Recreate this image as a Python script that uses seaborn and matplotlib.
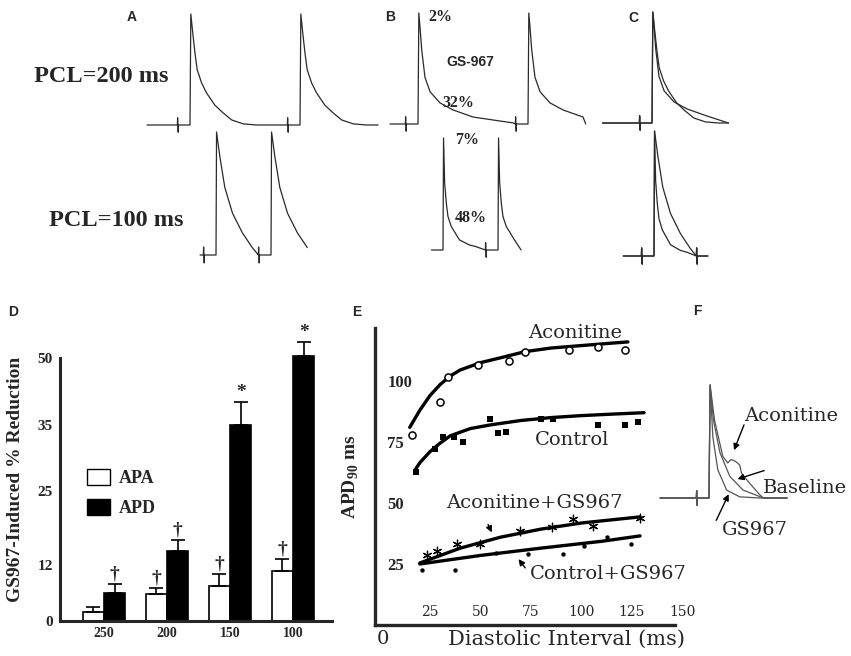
import numpy as np
import pandas as pd
import matplotlib
matplotlib.use("Agg")
import matplotlib.pyplot as plt
from matplotlib.patches import Patch
from matplotlib.ticker import MultipleLocator, FixedLocator
import seaborn as sns

# ---------------- data ----------------

# D: GS967-induced % reduction vs pacing cycle length
pcl_labels = ["250", "200", "150", "100"]
apa_mean = [2.0, 5.8, 7.5, 10.7]
apa_err = [1.0, 1.3, 2.6, 2.4]
apd_mean = [6.0, 14.5, 35.0, 50.5]
apd_err = [2.0, 1.9, 5.1, 3.1]
apa_marks = ["", "\u2020", "\u2020", "\u2020"]
apd_marks = ["\u2020", "\u2020", "*", "*"]
d_ticks = [0, 12, 25, 35, 50]

# E: APD90 restitution (diastolic interval ms, APD90 ms)
aco_di = [16, 30, 34, 49, 64, 72, 94, 108, 121.5]
aco_apd = [78, 91.5, 101.5, 106.5, 108, 112, 112.5, 114, 112.5]
aco_fit_di = [15, 20, 25, 30, 35, 40, 50, 60, 72, 85, 100, 115, 123]
aco_fit_apd = [81, 88, 94, 98.5, 102, 104.5, 107.5, 109.5, 112, 113.5, 114.5, 115.5, 116]
ctl_di = [18, 27.5, 31.5, 37, 41.5, 54.5, 58.5, 62.5, 80, 86, 108, 121.5, 128]
ctl_apd = [62.5, 72, 77, 77, 75, 84.5, 78.5, 79, 84.5, 84.5, 82, 82, 83]
ctl_fit_di = [18, 20, 25, 30, 35, 45, 55, 70, 85, 100, 115, 131]
ctl_fit_apd = [64, 66.5, 71, 74.5, 77.5, 80.5, 82, 83.8, 85, 85.8, 86.4, 87]
acogs_di = [23.5, 28.5, 38.5, 50, 69.5, 85.5, 96, 105.5, 129]
acogs_apd = [28.5, 30.5, 33, 33, 38.5, 40, 43.5, 40.5, 44]
acogs_fit_di = [20, 40, 60, 80, 100, 129]
acogs_fit_apd = [25.4, 31.5, 36, 39.3, 41.8, 44.3]
ctlgs_di = [21, 37.5, 57.5, 73.5, 91, 101.5, 112.5, 124.5]
ctlgs_apd = [22.5, 22.5, 29.5, 29, 29, 32.5, 36, 33]
ctlgs_fit_di = [20, 50, 80, 110, 129]
ctlgs_fit_apd = [25, 28.5, 31.5, 34.3, 36.5]

# action potential shapes: ms after upstroke, fraction of AP amplitude
ctl200_t = [0, 1.5, 5, 9, 13, 21, 30, 45, 60, 76, 97, 121]
ctl200_v = [0, 1, 0.83, 0.65, 0.5, 0.38, 0.29, 0.18, 0.11, 0.045, 0.01, 0]
gs200_t = [0, 1.5, 4, 6.7, 12.7, 22, 40, 64, 100, 149, 173]
gs200_v = [0, 1, 0.85, 0.67, 0.42, 0.29, 0.19, 0.126, 0.063, 0.027, 0.01]
ctl100_t = [0, 1, 7, 16, 30, 48, 66]
ctl100_v = [0, 1, 0.80, 0.55, 0.34, 0.18, 0.06]
gs100_t = [0, 1, 3, 6, 9, 15, 30, 48, 60]
gs100_v = [0, 1, 0.6, 0.42, 0.3, 0.21, 0.09, 0.045, 0.03]
f_base_t = [0, 2, 8, 20, 38, 62, 99]
f_base_v = [0, 1, 0.69, 0.40, 0.19, 0.07, 0]
f_aco_t = [0, 2, 10, 25, 34, 40, 46, 52, 56, 59, 74, 92, 99]
f_aco_v = [0, 1, 0.69, 0.37, 0.31, 0.34, 0.33, 0.31, 0.29, 0.22, 0.13, 0.03, 0]
f_gs_t = [0, 2, 7, 16, 32, 56, 92]
f_gs_v = [0, 1, 0.54, 0.25, 0.07, 0.01, 0]
stim_t = [-1.0, -0.5, 0.5, 1.0]
stim_v = [0, 0.065, -0.065, 0]
stim_delay = 22
beats_200 = [0, 200]
beats_100 = [0, 100]

# ---------------- layout ----------------
W, H = 851, 656
PX_PER_MS = 0.55
sns.set_style("white")
plt.rcParams["font.family"] = ["Liberation Serif", "DejaVu Serif"]
plt.rcParams["mathtext.fontset"] = "custom"
plt.rcParams["mathtext.rm"] = "Liberation Serif:bold"
plt.rcParams["mathtext.bf"] = "Liberation Serif:bold"

fig = plt.figure(figsize=(W / 100, H / 100), dpi=100)
fig.patch.set_facecolor("white")


def fx(px):
    return px / W


def fy(py):
    return 1 - py / H


def px_axes(x0, y0, x1, y1):
    return fig.add_axes([fx(x0), fy(y1), (x1 - x0) / W, (y1 - y0) / H])


def trace_axes(x0, x1, y0, y1, up_px, base_px, amp_px):
    ax = px_axes(x0, y0, x1, y1)
    ax.set_xlim((x0 - up_px) / PX_PER_MS, (x1 - up_px) / PX_PER_MS)
    ax.set_ylim((base_px - y1) / amp_px, (base_px - y0) / amp_px)
    ax.axis("off")
    return ax


def build_trace(beats, tt, vv, t0, t1):
    pts = [(t0, 0.0)]
    for b in beats:
        pts += [(b - stim_delay + a, s) for a, s in zip(stim_t, stim_v)]
        pts += [(b + a, s) for a, s in zip(tt, vv)]
    pts = sorted(p for p in pts if t0 <= p[0] <= t1)
    if pts[-1][0] < t1 and pts[-1][1] < 0.1:
        pts.append((t1, 0.0))
    return pd.DataFrame(pts, columns=["t", "v"])


def draw_trace(ax, df, color="#2a2a2a", lw=0.9):
    sns.lineplot(data=df, x="t", y="v", ax=ax, color=color, linewidth=lw,
                 estimator=None, sort=False)
    ax.set_xlabel("")
    ax.set_ylabel("")
    ax.axis("off")


# ---------------- A / B / C traces ----------------
ax_at = trace_axes(140, 385, 5, 140, 190, 125, 111)
draw_trace(ax_at, build_trace(beats_200, ctl200_t, ctl200_v, -78, 342))
ax_ab = trace_axes(195, 315, 125, 270, 216, 255, 123)
draw_trace(ax_ab, build_trace(beats_100, ctl100_t, ctl100_v, -29, 166))

ax_bt = trace_axes(385, 590, 5, 140, 418, 124, 111)
draw_trace(ax_bt, build_trace(beats_200, gs200_t, gs200_v, -51, 305))
ax_bb = trace_axes(425, 525, 125, 270, 443, 250, 112)
draw_trace(ax_bb, build_trace(beats_100, gs100_t, gs100_v, -21, 142))

ax_ct = trace_axes(595, 735, 5, 140, 652, 123, 111)
draw_trace(ax_ct, build_trace([0], ctl200_t, ctl200_v, -90, 139))
draw_trace(ax_ct, build_trace([0], gs200_t, gs200_v, -90, 139))
ax_cb = trace_axes(615, 715, 125, 270, 654, 256, 125)
draw_trace(ax_cb, build_trace(beats_100, ctl100_t, ctl100_v, -56, 98))
draw_trace(ax_cb, build_trace(beats_100, gs100_t, gs100_v, -56, 98))

pct_font = dict(fontsize=11.5, fontweight="bold", ha="center", va="center")
ax_bt.text(40, 0.96, "2%", **pct_font)
ax_bt.text(72.7, 0.19, "32%", **pct_font)
ax_bt.text(94.5, 0.56, "GS-967", fontsize=10, fontweight="bold",
           family="Liberation Sans", ha="center", va="center")
ax_bb.text(43, 0.98, "7%", **pct_font)
ax_bb.text(50, 0.29, "48%", **pct_font)

fig.text(fx(101), fy(76), "PCL=200 ms", fontsize=17.5, fontweight="bold",
         ha="center", va="center")
fig.text(fx(116), fy(220), "PCL=100 ms", fontsize=17.5, fontweight="bold",
         ha="center", va="center")

for letter, (px, py) in {"A": (132, 17), "B": (390, 17), "C": (633, 18),
                         "D": (13, 312), "E": (357, 312), "F": (697, 311)}.items():
    fig.text(fx(px), fy(py), letter, fontsize=10, fontweight="bold",
             family="Liberation Sans", ha="center", va="center")

# ---------------- D: bar chart ----------------
d_vals = [0, 12, 25, 35, 50, 65]
d_pos = [0, 56, 130, 196, 263, 330]


def d_fwd(v):
    return np.interp(v, d_vals, d_pos)


def d_inv(p):
    return np.interp(p, d_pos, d_vals)


df_d = pd.DataFrame({
    "pcl": pcl_labels * 2,
    "measure": ["APA"] * 4 + ["APD"] * 4,
    "value": apa_mean + apd_mean,
})
ax_d = px_axes(60, 338, 332, 621)
ax_d.set_yscale("function", functions=(d_fwd, d_inv))
sns.barplot(data=df_d, x="pcl", y="value", hue="measure", order=pcl_labels,
            hue_order=["APA", "APD"], palette={"APA": "white", "APD": "black"},
            edgecolor="black", linewidth=1.2, width=0.68, errorbar=None,
            legend=False, ax=ax_d)
for cont, means, errs, marks in zip(ax_d.containers, [apa_mean, apd_mean],
                                    [apa_err, apd_err], [apa_marks, apd_marks]):
    for bar, m, e, mk in zip(cont, means, errs, marks):
        xc = bar.get_x() + bar.get_width() / 2
        ax_d.errorbar(xc, m, yerr=[[0], [e]], fmt="none", ecolor="black",
                      elinewidth=1.2, capsize=5, capthick=1.2)
        if mk:
            ax_d.annotate(mk, (xc, m + e), xytext=(0, 1), textcoords="offset points",
                          ha="center", va="bottom", fontsize=14, fontweight="bold")
ax_d.set_xlim(-0.698, 3.619)
ax_d.set_ylim(0, 54.5)
sns.despine(ax=ax_d)
for side in ["left", "bottom"]:
    ax_d.spines[side].set_linewidth(2.2)
ax_d.spines["left"].set_bounds(0, 50)
ax_d.yaxis.set_major_locator(FixedLocator(d_ticks))
ax_d.yaxis.set_minor_locator(FixedLocator([]))
ax_d.set_yticks(d_ticks, labels=[str(v) for v in d_ticks], fontweight="bold", fontsize=11)
ax_d.set_xticks(range(4), labels=pcl_labels, fontweight="bold", fontsize=10)
ax_d.tick_params(axis="y", direction="out", length=5, width=1.5, pad=0)
ax_d.tick_params(axis="x", length=0, pad=4)
ax_d.set_xlabel("")
ax_d.set_ylabel("GS967-Induced % Reduction", fontsize=14, fontweight="bold", labelpad=10)
ax_d.legend(handles=[Patch(facecolor="white", edgecolor="black", label="APA"),
                     Patch(facecolor="black", edgecolor="black", label="APD")],
            loc="upper left", bbox_to_anchor=(fx(87), fy(469)),
            bbox_transform=fig.transFigure, frameon=False,
            prop={"family": "Liberation Serif", "weight": "bold", "size": 13},
            handlelength=1.25, handleheight=1.0, labelspacing=0.65,
            handletextpad=0.5, borderpad=0, borderaxespad=0)

# ---------------- E: restitution ----------------
ax_e = px_axes(375, 328, 686.5, 625)
fit_kw = dict(color="black", linewidth=2.4, estimator=None, sort=False, ax=ax_e)
sns.lineplot(x=aco_fit_di, y=aco_fit_apd, **fit_kw)
sns.lineplot(x=ctl_fit_di, y=ctl_fit_apd, **fit_kw)
sns.lineplot(x=acogs_fit_di, y=acogs_fit_apd, **fit_kw)
sns.lineplot(x=ctlgs_fit_di, y=ctlgs_fit_apd, **fit_kw)
sns.scatterplot(x=aco_di, y=aco_apd, marker="o", s=26, facecolor="white",
                edgecolor="black", linewidth=1.1, ax=ax_e, zorder=3)
sns.scatterplot(x=ctl_di, y=ctl_apd, marker="s", s=13, color="black",
                linewidth=0, ax=ax_e, zorder=3)
sns.scatterplot(x=acogs_di, y=acogs_apd, marker=(6, 2, 0), s=38, color="black",
                edgecolor="black", linewidth=0.9, ax=ax_e, zorder=3)
sns.scatterplot(x=ctlgs_di, y=ctlgs_apd, marker="o", s=10, color="black",
                linewidth=0, ax=ax_e, zorder=3)
ax_e.set_xlim(-2.2, 152)
ax_e.set_ylim(0, 121.7)
sns.despine(ax=ax_e)
for side in ["left", "bottom"]:
    ax_e.spines[side].set_linewidth(2.4)
ax_e.spines["bottom"].set_bounds(-2.2, 146.3)
ax_e.xaxis.set_major_locator(FixedLocator([25, 50, 75, 100, 125, 150]))
ax_e.xaxis.set_minor_locator(MultipleLocator(12.5))
ax_e.yaxis.set_major_locator(FixedLocator([25, 50, 75, 100]))
ax_e.yaxis.set_minor_locator(MultipleLocator(12.5))
ax_e.tick_params(axis="both", which="major", direction="in", length=4, width=1.2)
ax_e.tick_params(axis="both", which="minor", direction="in", length=2.5, width=1.2)
ax_e.tick_params(axis="y", which="major", pad=-9)
ax_e.tick_params(axis="x", which="major", pad=-4.5)
for lab in ax_e.get_yticklabels():
    lab.set_ha("left")
    lab.set_fontweight("bold")
    lab.set_fontsize(12)
for lab in ax_e.get_xticklabels():
    lab.set_va("bottom")
    lab.set_family("DejaVu Serif")
    lab.set_fontsize(10)
ax_e.annotate("0", xy=(0, 0), xytext=(2.5, -3.6), textcoords="offset points",
              ha="center", va="top", fontsize=14, family="DejaVu Serif")
ax_e.set_xlabel("Diastolic Interval (ms)", family="DejaVu Serif", fontsize=15,
                labelpad=0)
ax_e.xaxis.label.set_x((567 - 375) / (686.5 - 375))
ax_e.set_ylabel("APD$_{90}$ ms", fontsize=14, fontweight="bold", labelpad=7)

e_font = dict(family="DejaVu Serif", fontsize=14, ha="center", va="center")
arrow = dict(arrowstyle="-|>", color="black", lw=1.0, mutation_scale=9)
ax_e.text(96.8, 119.7, "Aconitine", **e_font)
ax_e.text(95.3, 75.8, "Control", **e_font)
ax_e.text(76.5, 50, "Aconitine+GS967", **e_font)
ax_e.text(113.1, 20.9, "Control+GS967", **e_font)
ax_e.annotate("", xy=(56.2, 36.9), xytext=(53.2, 42.2), arrowprops=arrow)
ax_e.annotate("", xy=(68, 27.9), xytext=(73, 22.5), arrowprops=arrow)

# ---------------- F: overlaid action potentials ----------------
ax_f = trace_axes(655, 851, 375, 545, 709, 498, 113)
draw_trace(ax_f, build_trace([0], f_base_t, f_base_v, -89, 142), color="#555555", lw=0.9)
draw_trace(ax_f, build_trace([0], f_aco_t, f_aco_v, -89, 142), color="#555555", lw=0.9)
draw_trace(ax_f, build_trace([0], f_gs_t, f_gs_v, -89, 142), color="#555555", lw=0.9)
ax_f.text(149, 0.73, "Aconitine", **e_font)
ax_f.text(174.5, 0.09, "Baseline", **e_font)
ax_f.text(83.6, -0.28, "GS967", **e_font)
ax_f.annotate("", xy=(43.6, 0.40), xytext=(65.5, 0.67), arrowprops=arrow)
ax_f.annotate("", xy=(47, 0.16), xytext=(105, 0.25), arrowprops=arrow)
ax_f.annotate("", xy=(38, 0.056), xytext=(11, -0.22), arrowprops=arrow)

fig.savefig("out.png", dpi=100, facecolor="white")
